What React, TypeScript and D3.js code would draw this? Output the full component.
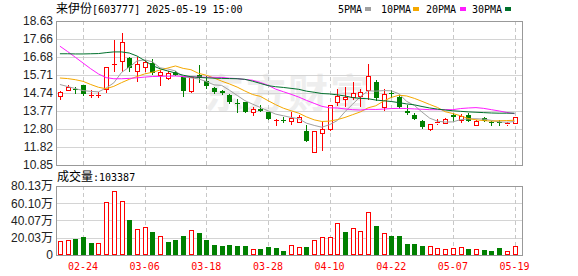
import React from 'react';
import * as d3 from 'd3';

const dates = ['02-19','02-20','02-21','02-24','02-25','02-26','02-27','02-28','03-03','03-04','03-05','03-06','03-07','03-10','03-11','03-12','03-13','03-14','03-17','03-18','03-19','03-20','03-21','03-24','03-25','03-26','03-27','03-28','03-31','04-01','04-02','04-03','04-07','04-08','04-09','04-10','04-11','04-14','04-15','04-16','04-17','04-18','04-21','04-22','04-23','04-24','04-25','04-28','04-29','04-30','05-06','05-07','05-08','05-09','05-12','05-13','05-14','05-15','05-16','05-19'];

const opens = [14.58,14.90,14.97,15.16,14.63,14.62,14.97,16.28,16.49,16.63,15.95,16.13,16.38,15.70,15.55,15.87,15.59,14.83,15.72,15.40,14.99,14.85,14.61,14.21,14.25,13.71,13.89,13.71,13.27,13.29,13.24,13.17,12.70,11.55,12.56,12.78,14.23,14.43,14.54,14.58,14.90,15.33,13.97,14.73,14.54,13.75,13.54,13.24,12.78,13.10,13.14,13.54,13.28,13.54,13.03,13.39,13.17,13.17,13.09,13.14];
const highs = [14.86,15.19,15.05,15.18,14.88,14.78,16.15,17.60,17.98,16.67,16.67,16.52,16.55,15.98,15.91,15.94,15.62,15.62,16.25,15.65,15.05,14.90,14.71,14.42,14.27,13.97,14.11,13.73,13.32,13.46,13.71,13.54,12.99,12.70,13.24,14.10,14.95,15.05,15.34,14.97,16.31,15.44,14.94,14.90,14.62,14.11,13.64,13.28,13.09,13.35,13.37,13.68,13.61,13.64,13.26,13.46,13.21,13.28,13.17,13.45];
const lows = [14.43,14.90,14.75,14.65,14.55,14.52,14.78,15.93,15.91,15.91,15.40,15.91,15.78,15.19,15.48,15.70,14.58,14.80,15.35,15.03,14.76,14.68,14.22,13.71,13.69,13.54,13.76,13.33,13.03,13.17,13.07,13.15,12.14,11.53,11.66,12.76,14.08,14.06,14.40,14.04,14.43,14.36,13.82,14.54,13.95,13.62,13.33,12.87,12.76,13.07,13.12,13.21,13.17,13.22,13.01,13.22,13.03,13.03,12.99,13.12];
const closes = [14.79,15.05,14.95,14.70,14.65,14.64,16.13,16.32,17.50,16.09,16.31,16.42,15.82,15.87,15.80,15.73,14.83,15.59,15.55,15.12,14.79,14.72,14.25,14.18,13.71,13.86,13.78,13.35,13.29,13.27,13.39,13.46,12.16,12.67,12.78,14.08,14.58,14.54,14.72,14.79,15.66,14.47,14.69,14.70,13.97,13.64,13.35,12.89,13.07,13.17,13.35,13.43,13.50,13.24,13.24,13.24,13.10,13.10,13.11,13.43];

// volume in 万 (10k)
const volumes = [16.3,17.4,18.6,20.9,13.9,13.9,61.2,74.0,62.4,40.6,29.8,32.2,26.7,21.7,15.5,17.4,22.1,28.7,25.6,17.4,11.6,10.5,11.6,10.5,10.5,6.6,7.0,9.3,8.1,4.6,11.3,8.9,9.3,17.4,20.5,20.5,36.8,26.7,31.0,27.9,49.6,33.7,25.6,22.1,22.1,12.8,12.8,10.5,10.1,7.8,6.6,7.8,8.9,7.0,6.6,5.8,5.0,7.8,4.3,10.34];
const volumeUp = [1,1,0,0,0,1,1,1,1,0,1,1,0,1,0,0,0,1,0,0,0,0,0,0,0,1,0,0,0,0,1,1,0,1,1,1,1,0,1,1,1,0,1,0,0,0,0,0,1,1,1,1,1,0,1,0,0,0,1,1];

const ma5 = [15.20,15.09,14.98,14.87,14.83,14.80,15.01,15.29,15.85,16.14,16.47,16.53,16.43,16.10,16.04,15.93,15.61,15.56,15.50,15.36,15.18,15.15,14.89,14.61,14.33,14.14,13.96,13.78,13.60,13.51,13.42,13.35,13.11,12.99,12.89,13.03,13.25,13.73,14.14,14.54,14.86,14.84,14.87,14.86,14.70,14.29,14.07,13.71,13.38,13.22,13.17,13.18,13.30,13.34,13.35,13.33,13.26,13.18,13.16,13.20];
const ma10 = [15.55,15.52,15.46,15.37,15.20,15.05,14.97,15.10,15.30,15.48,15.63,15.77,15.86,15.98,16.09,16.20,16.07,16.00,15.80,15.70,15.55,15.38,15.23,15.06,14.85,14.66,14.56,14.33,14.11,13.92,13.78,13.65,13.45,13.29,13.20,13.22,13.30,13.42,13.57,13.72,13.94,14.05,14.30,14.50,14.62,14.58,14.45,14.29,14.12,13.96,13.73,13.63,13.51,13.36,13.29,13.25,13.22,13.24,13.25,13.27];
const ma20 = [17.27,16.98,16.67,16.36,16.05,15.77,15.57,15.51,15.51,15.53,15.56,15.60,15.63,15.64,15.65,15.66,15.63,15.62,15.60,15.59,15.59,15.58,15.54,15.52,15.47,15.43,15.31,15.16,14.95,14.81,14.67,14.52,14.34,14.18,14.02,13.94,13.93,13.88,13.84,13.82,13.86,13.85,13.87,13.90,13.91,13.90,13.88,13.86,13.84,13.84,13.84,13.84,13.90,13.93,13.95,13.91,13.84,13.77,13.69,13.62];
const ma30 = [16.86,16.86,16.85,16.85,16.86,16.87,16.92,16.96,16.96,16.90,16.74,16.49,16.22,16.05,15.93,15.82,15.70,15.62,15.58,15.56,15.54,15.53,15.52,15.51,15.48,15.38,15.26,15.14,15.08,15.04,14.99,14.94,14.84,14.78,14.71,14.69,14.64,14.58,14.49,14.45,14.43,14.36,14.32,14.28,14.22,14.15,14.10,14.01,13.93,13.87,13.82,13.78,13.75,13.72,13.70,13.68,13.66,13.65,13.65,13.65];

const priceTicks = ['18.63','17.66','16.68','15.71','14.74','13.77','12.80','11.82','10.85'];
const volTickValues = [80.13, 60.10, 40.07, 20.03, 0];
const volTickLabels = ['80.13万','60.10万','40.07万','20.03万','0'];
const dateTicks = ['02-24','03-06','03-18','03-28','04-10','04-22','05-07','05-19'];
const legendNames = ['5PMA','10PMA','20PMA','30PMA'];
const maSeries = [ma5, ma10, ma20, ma30];

const UP = '#ff0000';
const DOWN = '#008000';
const MA_COLORS = ['#a0a0a0', '#f5a800', '#ff1cff', '#00702c'];
const GRID = '#d4d4d4';
const BORDER = '#999999';

const W = 578, H = 276;
const PL = 56, PR = 522;
const PT = 21, PB = 165;
const VT = 186, VB = 255;

const px = (v: number) => Math.round(v) + 0.5;

export default function App() {
  const x = d3.scalePoint<string>().domain(dates).range([59.9, 514.5]);
  const y = d3.scaleLinear().domain([10.85, 18.63]).range([PB, PT]);
  const yv = d3.scaleLinear().domain([0, 80.13]).range([VB, VT]);

  const line = d3.line<number>()
    .x((_, i) => x(dates[i]) as number)
    .y((v) => y(v));

  const cx = (i: number) => Math.round(x(dates[i]) as number);

  const candles = dates.map((d, i) => {
    const o = opens[i], c = closes[i], h = highs[i], l = lows[i];
    const up = c >= o;
    const xc = cx(i);
    const top = Math.round(y(Math.max(o, c)));
    const bot = Math.round(y(Math.min(o, c)));
    const yh = Math.round(y(h));
    const yl = Math.round(y(l));
    const col = up ? UP : DOWN;
    if (up) {
      const hgt = bot - top;
      return (
        <g key={d}>
          {yh < top && <line x1={xc + 0.5} x2={xc + 0.5} y1={yh} y2={top} stroke={col} />}
          {yl > bot && <line x1={xc + 0.5} x2={xc + 0.5} y1={bot + 1} y2={yl + 1} stroke={col} />}
          {hgt >= 2 ? (
            <rect x={xc - 1.5} y={top + 0.5} width={4} height={hgt} fill="#fff" stroke={col} />
          ) : (
            <line x1={xc - 2} x2={xc + 3} y1={top + 0.5} y2={top + 0.5} stroke={col} />
          )}
        </g>
      );
    }
    return (
      <g key={d}>
        <line x1={xc + 0.5} x2={xc + 0.5} y1={yh} y2={yl + 1} stroke={col} />
        <rect x={xc - 2} y={top} width={5} height={Math.max(bot - top, 1)} fill={col} />
      </g>
    );
  });

  const vbars = dates.map((d, i) => {
    const xc = cx(i);
    const top = Math.round(yv(volumes[i]));
    const up = volumeUp[i] === 1;
    return up ? (
      <rect key={d} x={xc - 1.5} y={top + 0.5} width={4} height={VB - top - 1} fill="#fff" stroke={UP} />
    ) : (
      <rect key={d} x={xc - 2} y={top} width={5} height={VB - top} fill={DOWN} />
    );
  });

  const legendX = [338, 381, 426, 472];
  const swatchX = [365, 413, 460, 505];

  return (
    <svg width={W} height={H} style={{ position: 'absolute', left: 0, top: 0, background: '#fff' }}
      fontFamily="'Liberation Sans', Arial, sans-serif">
      <defs>
        <clipPath id="pclip"><rect x={PL} y={PT} width={PR - PL} height={PB - PT} /></clipPath>
      </defs>
      <rect x={0} y={0} width={W} height={H} fill="#fff" />

      {/* header */}
      <text x={56} y={13} fontSize={12} fill="#000">
        <tspan fontFamily="'Noto Sans CJK SC', sans-serif" fontSize={12}>来伊份</tspan>
        <tspan fontFamily="'DejaVu Sans Mono', monospace" fontSize={10}>[603777] 2025-05-19 15:00</tspan>
      </text>

      {/* legend */}
      {legendNames.map((n, i) => (
        <g key={n}>
          <text x={legendX[i]} y={12.5} fontSize={10} fontFamily="'DejaVu Sans Mono', monospace" fill="#000">{n}</text>
          <rect x={swatchX[i]} y={7} width={6} height={4} fill={MA_COLORS[i]} />
        </g>
      ))}

      {/* watermark */}
      <text x={204} y={108} fontSize={40} fontWeight="bold" fill="#eeeeee" letterSpacing={2}
        fontFamily="'Noto Sans CJK SC', sans-serif">东方财富</text>

      {/* price grid */}
      {priceTicks.map((t) => {
        const yy = px(y(+t));
        return <line key={t} x1={PL} x2={PR} y1={yy} y2={yy} stroke={GRID} />;
      })}
      {dateTicks.map((d) => {
        const xx = px(x(d) as number);
        return <line key={d} x1={xx} x2={xx} y1={PT} y2={PB} stroke="#c8c8c8" strokeDasharray="4,3" />;
      })}

      {/* volume grid */}
      {volTickValues.slice(1, 4).map((v) => {
        const yy = px(yv(v));
        return <line key={v} x1={PL} x2={PR} y1={yy} y2={yy} stroke={GRID} />;
      })}
      {dateTicks.map((d) => {
        const xx = px(x(d) as number);
        return <line key={'v' + d} x1={xx} x2={xx} y1={VT} y2={VB} stroke="#c8c8c8" strokeDasharray="4,3" />;
      })}

      {/* candles */}
      <g shapeRendering="crispEdges">{candles}</g>

      {/* moving averages */}
      <g clipPath="url(#pclip)">
        {maSeries.map((s, i) => (
          <path key={i} d={line(s) || ''} fill="none" stroke={MA_COLORS[i]} strokeWidth={1} />
        ))}
      </g>

      {/* volume bars */}
      <g shapeRendering="crispEdges">{vbars}</g>

      {/* borders */}
      <rect x={PL + 0.5} y={px(PT)} width={PR - PL} height={PB - PT} fill="none" stroke={BORDER} />
      <rect x={PL + 0.5} y={px(VT)} width={PR - PL} height={VB - VT} fill="none" stroke={BORDER} />

      {/* price axis labels */}
      {priceTicks.map((t) => (
        <text key={t} x={53} y={y(+t)} dy="0.36em" textAnchor="end" fontSize={12} fill="#222">{t}</text>
      ))}

      {/* volume title */}
      <text x={57} y={181} fontSize={12} fill="#000">
        <tspan fontFamily="'Noto Sans CJK SC', sans-serif">成交量</tspan>
        <tspan fontFamily="'DejaVu Sans Mono', monospace" fontSize={10}>:103387</tspan>
      </text>

      {/* volume axis labels */}
      {volTickValues.map((v, i) => (
        <text key={v} x={53} y={yv(v)} dy="0.36em" textAnchor="end" fontSize={12} fill="#222">
          {volTickLabels[i].replace('万', '')}
          {volTickLabels[i].includes('万') && (
            <tspan fontFamily="'Noto Sans CJK SC', sans-serif">万</tspan>
          )}
        </text>
      ))}

      {/* date labels */}
      {dateTicks.map((d) => (
        <text key={d} x={x(d) as number} y={270} textAnchor="middle" fontSize={10}
          fontFamily="'DejaVu Sans Mono', monospace" fill={UP}>{d}</text>
      ))}
    </svg>
  );
}
